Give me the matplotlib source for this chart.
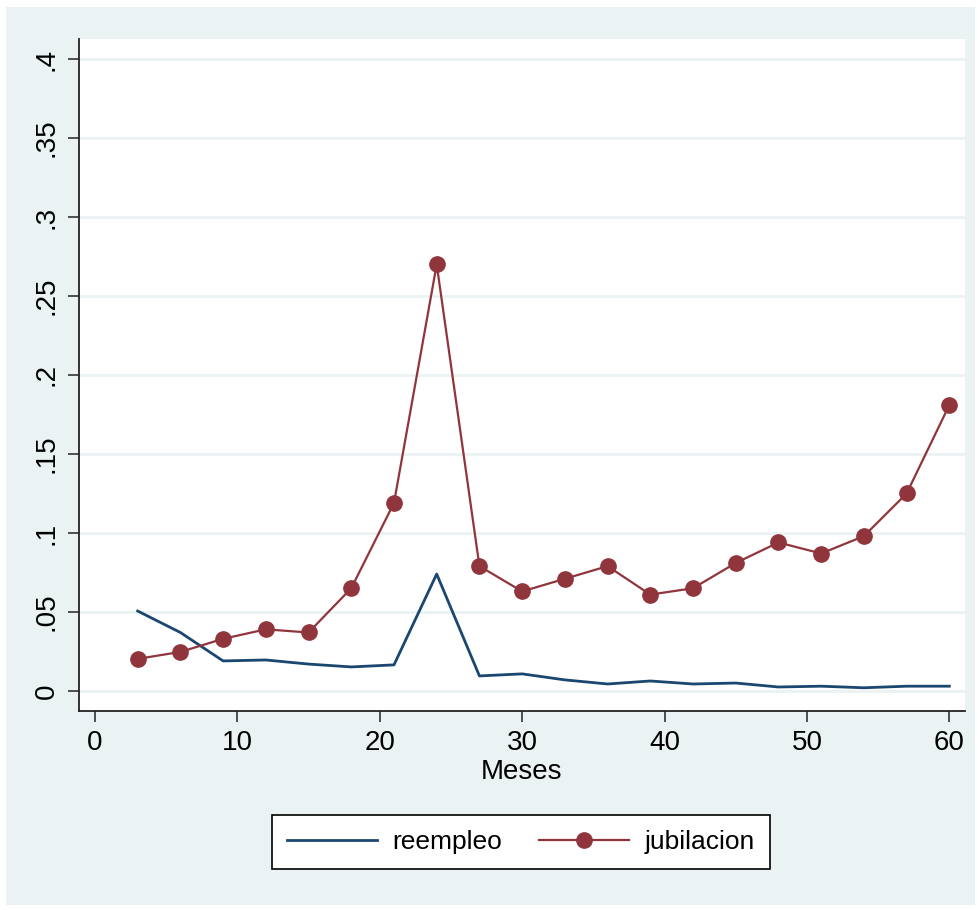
import numpy as np
import matplotlib
matplotlib.use("Agg")
import matplotlib.pyplot as plt
import matplotlib.patches as patches

plt.rcParams['font.family'] = ['Liberation Sans', 'DejaVu Sans']

# datos
meses = [3, 6, 9, 12, 15, 18, 21, 24, 27, 30, 33, 36, 39, 42, 45, 48, 51, 54, 57, 60]
reempleo = [0.0506, 0.037, 0.019, 0.0196, 0.017, 0.0152, 0.0165, 0.074, 0.0095, 0.0108,
            0.007, 0.0044, 0.0063, 0.0044, 0.005, 0.0025, 0.003, 0.002, 0.003, 0.003]
jubilacion = [0.0203, 0.0247, 0.033, 0.039, 0.037, 0.065, 0.119, 0.270, 0.079, 0.063,
              0.071, 0.079, 0.061, 0.065, 0.081, 0.094, 0.087, 0.098, 0.125, 0.181]
yticks = [0, 0.05, 0.1, 0.15, 0.2, 0.25, 0.3, 0.35, 0.4]
ytick_labels = ['0', '.05', '.1', '.15', '.2', '.25', '.3', '.35', '.4']
xticks = [0, 10, 20, 30, 40, 50, 60]

bg = '#eaf2f3'
azul = '#1a476f'
granate = '#90353b'

fig = plt.figure(figsize=(9.79, 9.1), dpi=100)
fig.patch.set_facecolor('white')
fondo = patches.Rectangle((6/979, 5/910), 969/979, 898/910,
                          transform=fig.transFigure, facecolor=bg,
                          edgecolor='none', zorder=-10)
fig.patches.append(fondo)

ax = fig.add_axes([79/979, 199/910, 886/979, 672/910])
ax.set_zorder(1)
ax.set_facecolor('white')

for yt in yticks:
    ax.axhline(yt, color=bg, lw=2, zorder=1)

ax.plot(meses, reempleo, color=azul, lw=2, label='reempleo', zorder=3)
ax.plot(meses, jubilacion, color=granate, lw=1.6, marker='o', markersize=11,
        label='jubilacion', zorder=4)

ax.set_xlim(-1.12, 61.1)
ax.set_ylim(-0.0127, 0.4127)
ax.set_yticks(yticks)
ax.set_yticklabels(ytick_labels, rotation=90, va='center')
ax.set_xticks(xticks)
ax.tick_params(axis='both', direction='out', length=8, width=1.2, color='#333333',
               labelsize=20, pad=6)

for s in ['top', 'right']:
    ax.spines[s].set_visible(False)
for s in ['left', 'bottom']:
    ax.spines[s].set_linewidth(1.3)
    ax.spines[s].set_color('#222222')

ax.set_xlabel('Meses', fontsize=20, labelpad=2)

leg = fig.legend(loc='center', bbox_to_anchor=(521/979, 1 - 842/910), ncol=2,
                 fontsize=19, frameon=True, fancybox=False, framealpha=1,
                 handlelength=3.4, columnspacing=1.4, borderpad=0.55,
                 handletextpad=0.6)
leg.get_frame().set_edgecolor('black')
leg.get_frame().set_linewidth(1.2)
leg.get_frame().set_facecolor('white')

fig.savefig('out.png', dpi=100, facecolor=fig.get_facecolor())
